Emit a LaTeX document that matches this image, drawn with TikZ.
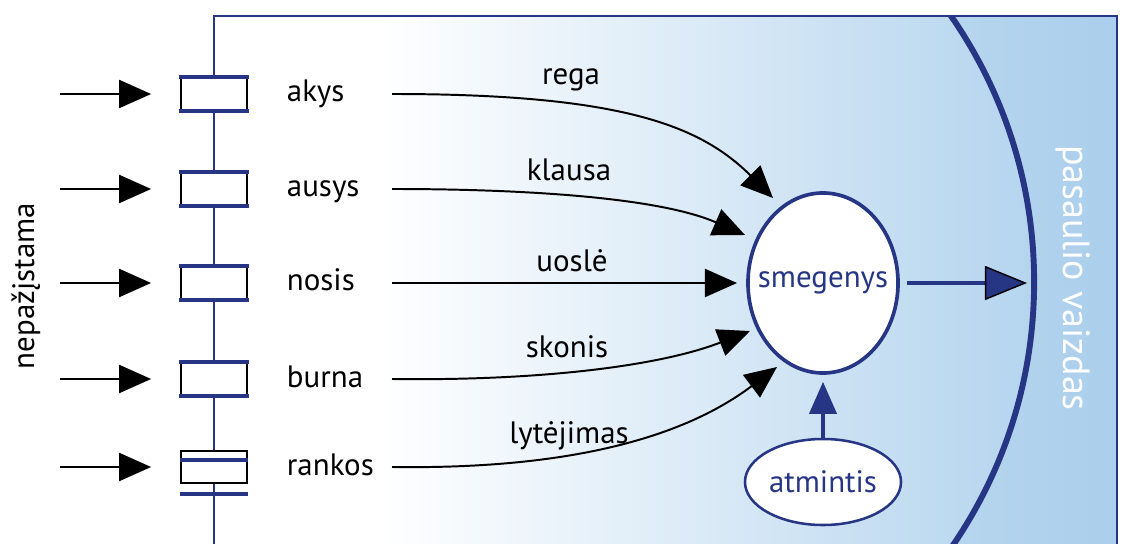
\documentclass[tikz,border=0pt]{standalone}
\usepackage{fontspec}
\setmainfont{PT Sans}
\usepackage{xcolor}
\usetikzlibrary{arrows.meta,shapes.geometric}

\definecolor{navy}{HTML}{263584}
\definecolor{skyend}{HTML}{ABCFEC}

\begin{document}
\begin{tikzpicture}[x=0.025cm,y=-0.025cm,
		txt/.style={font=\fontsize{22}{26}\selectfont},
		gate/.style={rectangle,draw=black,line width=1.2pt,fill=white,
			minimum width=1.65cm,minimum height=0.8cm,inner sep=0pt},
		brain/.style={ellipse,draw=navy,fill=white,text=navy,inner sep=0pt,txt}]
	\useasboundingbox (0,0) rectangle (1132,544);
	% background of the frame
	\fill[white] (214,16) rectangle (381,544);
	\shade[left color=white,right color=skyend] (380,16) rectangle (1117,544);
	\begin{scope}
		\clip (214,16) rectangle (1117,544);
		\fill[skyend,opacity=.35,even odd rule] (214,16) rectangle (1117,544)
			(567,282) circle[radius=11.675cm];
		\draw[navy,line width=4.2pt] (567,282) circle[radius=11.675cm];
	\end{scope}
	\draw[navy,line width=1.8pt] (214,544) -- (214,16) -- (1117,16) -- (1117,544);
	
	\node[txt,rotate=90] (outside) at (26,286) {nepažįstama};
	\node[txt,text=white,rotate=-90,font=\fontsize{27}{30}\selectfont] (world) at (1073,278) {pasaulio vaizdas};
	
	% senses
	\foreach \y/\org [count=\i] in {94/akys,189/ausys,283/nosis,379/burna,467/rankos} {
		\node[gate] (g\i) at (214,\y) {};
		\node[txt,anchor=base west] (o\i) at (282,\y+8) {\org};
		\coordinate (in\i) at (60,\y);
		\coordinate (s\i) at (392,\y);
	}
	\foreach \i in {1,...,4}
		\draw[navy,line width=3pt] ([xshift=-1pt]g\i.north west) -- ([xshift=1pt]g\i.north east)
			([xshift=-1pt]g\i.south west) -- ([xshift=1pt]g\i.south east);
	\draw[navy,line width=3pt] ([yshift=-7]g5.north west) -- ([yshift=-7]g5.north east)
		([yshift=-7]g5.south west) -- ([yshift=-7]g5.south east);
	
	\node[brain,line width=2.6pt,minimum width=3.75cm,minimum height=4.5cm] (smeg) at (823,283) {\makebox[0pt]{smegenys}};
	\node[brain,line width=1.8pt,minimum width=3.9cm,minimum height=2.15cm] (atm) at (823,482) {\makebox[0pt]{atmintis}};
	\coordinate (view) at (1027,283);
	
	\coordinate (e1) at (773,198);
	\coordinate (e2) at (745,235);
	\coordinate (e3) at (737,283);
	\coordinate (e4) at (750,331);
	\coordinate (e5) at (777,367);
	
	\begin{scope}[>={Triangle[length=0.8cm,width=0.7cm]},line width=1.4pt]
		\foreach \i in {1,...,5}
			\draw[->,shorten >=0.725cm] (in\i) -- (g\i.west);
		\draw[->] (s1) .. controls (620,94) and (700,125) .. (e1);
		\draw[->] (s2) .. controls (530,189) and (660,198) .. (e2);
		\draw[->] (s3) -- (e3);
		\draw[->] (s4) .. controls (540,381) and (660,366) .. (e4);
		\draw[->] (s5) .. controls (600,470) and (700,425) .. (e5);
	\end{scope}
	\node[txt,anchor=base] (rega) at (571,85) {rega};
	\node[txt,anchor=base] (klausa) at (569,181) {klausa};
	\node[txt,anchor=base] (uosle) at (572,272) {uoslė};
	\node[txt,anchor=base] (skonis) at (567,358) {skonis};
	\node[txt,anchor=base] (lyt) at (569,443) {lytėjimas};
	
	\draw[navy,line width=2.4pt,shorten >=5pt,
		-{Triangle[length=0.8cm,width=0.68cm,fill=navy]}] (atm) -- (smeg);
	\draw[navy,line width=2.8pt,shorten <=5pt,
		-{Triangle[length=1.05cm,width=0.85cm,fill=navy,color=black,line width=1pt]}] (smeg) -- (view);
\end{tikzpicture}
\end{document}
